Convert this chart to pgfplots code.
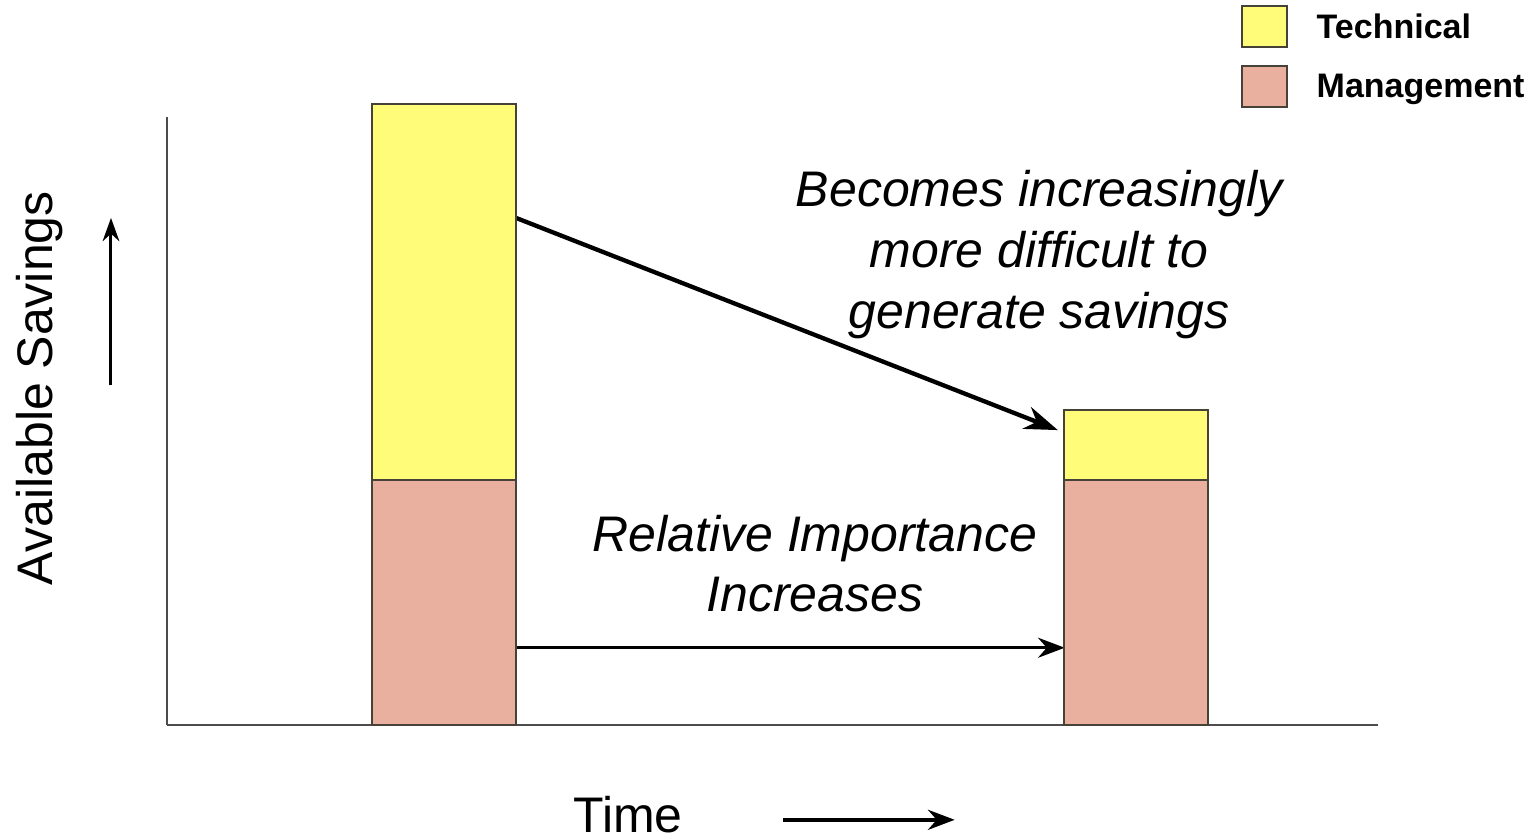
\documentclass[border=0pt]{standalone}
\usepackage{fontspec}
\setmainfont{Liberation Sans}
\usepackage{pgfplots}
\pgfplotsset{compat=1.18}
\usetikzlibrary{arrows.meta}
\definecolor{techyellow}{RGB}{255,252,122}
\definecolor{mgmtpink}{RGB}{233,176,160}
\definecolor{edgegray}{RGB}{70,66,55}
\begin{document}
\begin{tikzpicture}
\begin{axis}[
  scale only axis,
  width=363.3pt, height=182.4pt,
  xmin=0.5997, xmax=2.3497,
  ymin=0, ymax=100,
  axis x line=bottom, axis y line=left,
  axis line style={-, draw=black!70, line width=0.7pt},
  ticks=none,
  clip=false,
  ybar stacked,
  bar width=0.208,
  reverse legend,
  legend cell align=left,
  legend style={at={(0.8861,1.1859)}, anchor=north west, draw=none, fill=none,
    inner sep=0pt, row sep=5.1pt,
    font=\fontsize{10.2}{12}\selectfont\bfseries,
    nodes={inner sep=0pt, text depth=0pt}},
  /tikz/every odd column/.append style={column sep=8.7pt},
  legend image code/.code={\draw[#1, line width=0.6pt] (0pt,-6.15pt) rectangle (13.5pt,6.15pt);},
]
\addplot[fill=mgmtpink, draw=edgegray, line width=0.6pt] coordinates {(1,40.3) (2,40.3)};
\addlegendentry{Management}
\addplot[fill=techyellow, draw=edgegray, line width=0.6pt] coordinates {(1,61.8) (2,11.5)};
\addlegendentry{Technical}

% annotations
\draw[line width=1.3pt, -{Stealth[length=10pt,width=7pt]}] (axis cs:1.104,83.4) -- (axis cs:1.887,48.5);
\draw[line width=0.9pt, -{Stealth[length=8pt,width=6pt]}] (axis cs:1.104,12.7) -- (axis cs:1.897,12.7);
\node[font=\fontsize{15}{18.3}\selectfont\itshape, align=center] at (axis cs:1.860,77.3)
  {Becomes increasingly\\more difficult to\\generate savings};
\node[font=\fontsize{15}{18}\selectfont\itshape, align=center] at (axis cs:1.536,26.6)
  {Relative Importance\\Increases};
% axis labels
\node[font=\fontsize{15}{18}\selectfont, rotate=90] at (axis cs:0.416,55.4) {Available Savings};
\draw[line width=0.9pt, -{Stealth[length=7pt,width=5pt]}] (axis cs:0.5188,55.9) -- (axis cs:0.5188,83.4);
\node[font=\fontsize{15}{18}\selectfont] at (axis cs:1.266,-14.8) {Time};
\draw[line width=1.2pt, -{Stealth[length=8pt,width=6pt]}] (axis cs:1.490,-15.6) -- (axis cs:1.738,-15.6);

\coordinate (bbbl) at (axis cs:0.3584,-18.91);
\coordinate (bbtr) at (axis cs:2.5838,119.24);
\end{axis}
\pgfresetboundingbox
\path[use as bounding box] (bbbl) rectangle (bbtr);
\end{tikzpicture}
\end{document}
